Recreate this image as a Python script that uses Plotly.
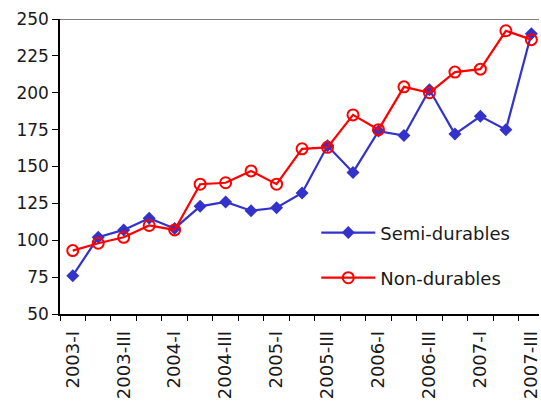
import plotly.graph_objects as go

# Quarterly index values, 2003-I .. 2007-III
quarters = [
    "2003-I", "2003-II", "2003-III", "2003-IV",
    "2004-I", "2004-II", "2004-III", "2004-IV",
    "2005-I", "2005-II", "2005-III", "2005-IV",
    "2006-I", "2006-II", "2006-III", "2006-IV",
    "2007-I", "2007-II", "2007-III",
]
semi_durables = [76, 102, 107, 115, 108, 123, 126, 120, 122, 132,
                 164, 146, 174, 171, 202, 172, 184, 175, 240]
non_durables = [93, 98, 102, 110, 107, 138, 139, 147, 138, 162,
                163, 185, 175, 204, 200, 214, 216, 242, 236]
y_ticks = [50, 75, 100, 125, 150, 175, 200, 225, 250]

# label only the I and III quarters
tick_text = [q if i % 2 == 0 else "" for i, q in enumerate(quarters)]

FONT = "DejaVu Sans"
TEXT = "#1a1a1a"

fig = go.Figure()
fig.add_trace(go.Scatter(
    x=quarters, y=semi_durables, name="Semi-durables", mode="lines+markers",
    line=dict(color="#3333CC", width=2.2),
    marker=dict(symbol="diamond", size=10, color="#3333CC"),
    legend="legend", showlegend=True,
))
fig.add_trace(go.Scatter(
    x=quarters, y=non_durables, name="Non-durables", mode="lines+markers",
    line=dict(color="#FF0000", width=2.2),
    marker=dict(symbol="circle-open", size=11, color="#FF0000",
                line=dict(width=2)),
    legend="legend2", showlegend=True,
))

# top border of the plot area
fig.add_shape(type="line", xref="paper", yref="y", x0=0, x1=1, y0=250, y1=250,
              line=dict(color="#808080", width=2))

legend_style = dict(xanchor="left", yanchor="middle", itemwidth=54,
                    font=dict(size=18, family=FONT, color=TEXT),
                    bgcolor="rgba(0,0,0,0)")

fig.update_layout(
    width=541, height=405,
    margin=dict(l=60, r=0, t=19, b=91),
    paper_bgcolor="white", plot_bgcolor="white",
    showlegend=True,
    font=dict(family=FONT, size=16, color=TEXT),
    legend=dict(x=0.535, y=0.275, **legend_style),
    legend2=dict(x=0.535, y=0.122, **legend_style),
    xaxis=dict(
        type="category", range=[-0.5, 18.3],
        tickmode="array", tickvals=quarters, ticktext=tick_text,
        tickson="boundaries", ticks="outside", ticklen=5,
        tickcolor="black", tickangle=-90, ticklabelstandoff=8,
        showline=True, linecolor="black", linewidth=1.5,
        showgrid=False, zeroline=False,
        tickfont=dict(size=18, family=FONT, color=TEXT),
    ),
    yaxis=dict(
        range=[50, 250], tickmode="array", tickvals=y_ticks,
        ticks="outside", ticklen=6, tickcolor="black",
        showline=True, linecolor="black", linewidth=1.5,
        showgrid=False, zeroline=False,
        tickfont=dict(size=17, family=FONT, color=TEXT),
    ),
)

fig.write_html("out.html")
